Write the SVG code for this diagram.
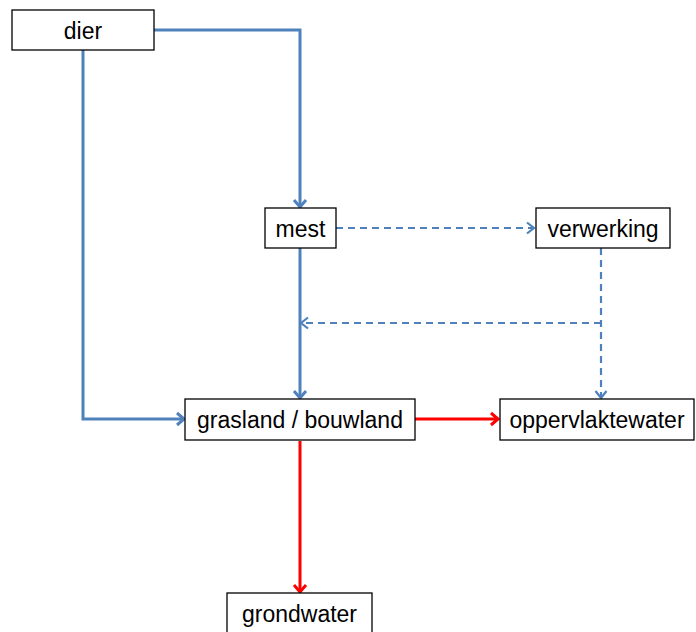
<svg xmlns="http://www.w3.org/2000/svg" width="696" height="632" viewBox="0 0 696 632">
<style>
.box{fill:#fff;stroke:#000;stroke-width:1.3}
.t{font-family:"Liberation Sans",Arial,sans-serif;font-size:23px;fill:#000;text-anchor:middle}
.b{fill:none;stroke:#4F81BD;stroke-width:3}
.d{fill:none;stroke:#4F81BD;stroke-width:2.2;stroke-dasharray:7,5}
.r{fill:none;stroke:#FF0000;stroke-width:3}
</style>
<defs>
<marker id="ab" markerUnits="userSpaceOnUse" markerWidth="20" markerHeight="20" refX="10" refY="10" orient="auto" viewBox="0 0 20 20">
<polyline points="3,4 10,10 3,16" fill="none" stroke="#4F81BD" stroke-width="3"/>
</marker>
<marker id="ad" markerUnits="userSpaceOnUse" markerWidth="20" markerHeight="20" refX="10" refY="10" orient="auto" viewBox="0 0 20 20">
<polyline points="3,4.5 10,10 3,15.5" fill="none" stroke="#4F81BD" stroke-width="2.2"/>
</marker>
<marker id="ar" markerUnits="userSpaceOnUse" markerWidth="20" markerHeight="20" refX="10" refY="10" orient="auto" viewBox="0 0 20 20">
<polyline points="3,4 10,10 3,16" fill="none" stroke="#FF0000" stroke-width="3"/>
</marker>
</defs>
<g id="connectors">
<polyline class="b" points="154,30 300,30 300,207" marker-end="url(#ab)"/>
<polyline class="b" points="83,50 83,419 184,419" marker-end="url(#ab)"/>
<line class="d" x1="336" y1="228" x2="534" y2="228" marker-end="url(#ad)"/>
<line class="b" x1="300" y1="248" x2="300" y2="398" marker-end="url(#ab)"/>
<line class="d" x1="601" y1="248" x2="601" y2="398" marker-end="url(#ad)"/>
<line class="d" x1="601" y1="323" x2="301" y2="323" marker-end="url(#ad)"/>
<line class="r" x1="415" y1="419" x2="498" y2="419" marker-end="url(#ar)"/>
<line class="r" x1="300" y1="441" x2="300" y2="592" marker-end="url(#ar)"/>
</g>
<g id="dier"><rect class="box" x="12" y="10" width="142" height="40"/><text class="t" x="83" y="39">dier</text></g>
<g id="mest"><rect class="box" x="265" y="208" width="71" height="40"/><text class="t" x="300.5" y="237">mest</text></g>
<g id="verwerking"><rect class="box" x="536" y="208" width="134" height="40"/><text class="t" x="603" y="237">verwerking</text></g>
<g id="grasland"><rect class="box" x="185" y="399" width="230" height="41"/><text class="t" x="300" y="428">grasland / bouwland</text></g>
<g id="oppervlaktewater"><rect class="box" x="500" y="399" width="194" height="41"/><text class="t" x="597" y="428">oppervlaktewater</text></g>
<g id="grondwater"><rect class="box" x="227" y="593" width="145" height="45"/><text class="t" x="299.5" y="622">grondwater</text></g>
</svg>
